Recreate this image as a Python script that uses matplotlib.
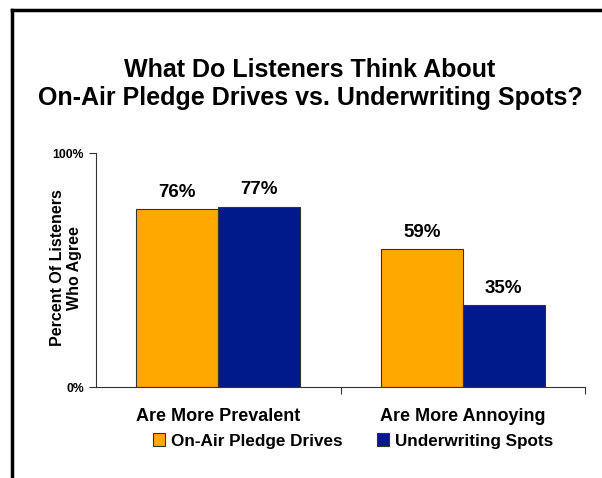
import matplotlib.pyplot as plt
from matplotlib.lines import Line2D
from matplotlib.patches import Patch
import numpy as np

plt.rcParams['font.family'] = ['Liberation Sans', 'DejaVu Sans']
plt.rcParams['font.weight'] = 'bold'

categories = ['Are More Prevalent', 'Are More Annoying']
series_names = ['On-Air Pledge Drives', 'Underwriting Spots']
pledge = [76, 59]
underwriting = [77, 35]
colors = ['#FFA800', '#001A8C']

fig = plt.figure(figsize=(6.02, 4.78), dpi=100)
ax = fig.add_axes([96 / 602, 1 - 387 / 478, 489 / 602, 234 / 478])

x = np.arange(len(categories))
w = 0.335
b1 = ax.bar(x - w / 2, pledge, w, color=colors[0], edgecolor='#333333', linewidth=0.8,
            label=series_names[0])
b2 = ax.bar(x + w / 2, underwriting, w, color=colors[1], edgecolor='#333333', linewidth=0.8,
            label=series_names[1])

# value labels above each bar
for bars in (b1, b2):
    for rect in bars:
        h = rect.get_height()
        ax.annotate(f'{h:.0f}%', (rect.get_x() + rect.get_width() / 2, h),
                    xytext=(0, 6), textcoords='offset points',
                    ha='center', va='bottom', fontsize=13.5, fontweight='bold')

ax.set_xlim(-0.5, 1.5)
ax.set_ylim(0, 100)
ax.set_yticks([0, 100])
ax.set_yticklabels(['0%', '100%'], fontsize=8.8, fontweight='bold')
ax.set_xticks([0.5, 1.5])
ax.set_xticklabels([])
ax.tick_params(axis='both', direction='out', length=5, width=0.8, color='#333333')
for s in ['top', 'right']:
    ax.spines[s].set_visible(False)
for s in ['left', 'bottom']:
    ax.spines[s].set_color('#333333')
    ax.spines[s].set_linewidth(0.8)

# category names under the groups
for xi, cat in zip(x, categories):
    ax.text(xi, -12.5, cat, ha='center', va='center', fontsize=13, fontweight='bold')

fig.text(66 / 602, 1 - 268 / 478, 'Percent Of Listeners\nWho Agree', rotation=90,
         ha='center', va='center', fontsize=11.5, fontweight='bold', linespacing=1.1)

fig.text(310 / 602, 1 - 84 / 478, 'What Do Listeners Think About\nOn-Air Pledge Drives vs. Underwriting Spots?',
         ha='center', va='center', fontsize=18, fontweight='bold', linespacing=1.2)

handles = [Patch(facecolor=colors[0], edgecolor='#333333', linewidth=0.8),
           Patch(facecolor=colors[1], edgecolor='#333333', linewidth=0.8)]
fig.legend(handles, series_names, loc='center', bbox_to_anchor=(353 / 602, 1 - 441 / 478),
           ncol=2, frameon=False, prop={'weight': 'bold', 'size': 12.3},
           handlelength=0.72, handleheight=0.72, handletextpad=0.36, columnspacing=2.0,
           borderpad=0)

# frame lines along top and left edge
fig.add_artist(Line2D([12 / 602, 12 / 602], [0, 1 - 10 / 478], color='black', linewidth=2.5))
fig.add_artist(Line2D([12 / 602, 1], [1 - 10 / 478, 1 - 10 / 478], color='black', linewidth=2.5))

fig.savefig('out.png', dpi=100)
